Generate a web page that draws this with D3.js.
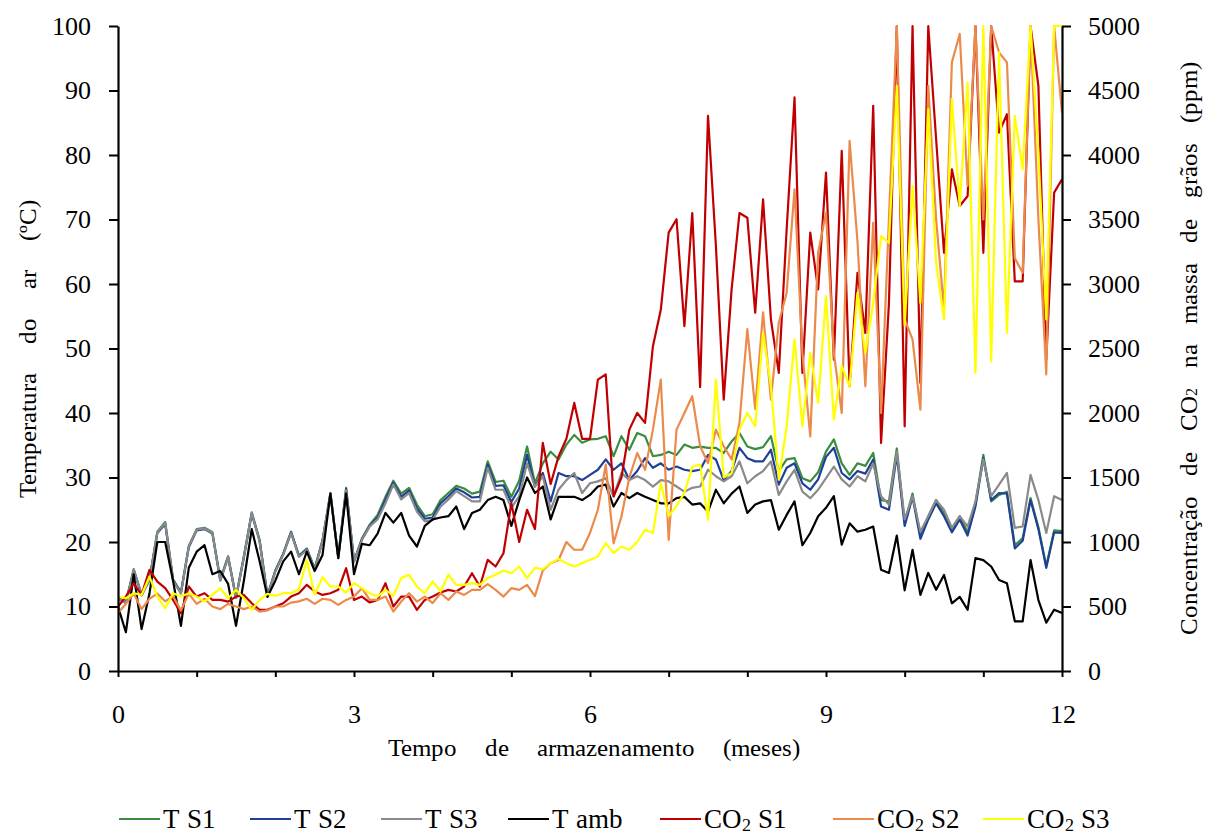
<!DOCTYPE html>
<html>
<head>
<meta charset="utf-8">
<script src="https://cdn.jsdelivr.net/npm/d3@7"></script>
<style>
  @font-face {
    font-family: "ChartSerif";
    src: local("Liberation Serif"), local("LiberationSerif"), local("LiberationSerif-Regular"),
         local("Times New Roman"), local("TimesNewRomanPSMT"), local("DejaVu Serif"), local("DejaVuSerif");
  }
  body { margin: 0; background: #fff; }
  svg { display: block; }
  svg text { font-family: "ChartSerif", "Liberation Serif", "Times New Roman", Times, "DejaVu Serif", serif; fill: #000; }
</style>
</head>
<body>
<svg id="chart" width="1213" height="834"></svg>
<script>
// Storage time grid (months), one reading every 0.1 month
const months = d3.range(0, 121).map(i => i / 10);

// Air temperature inside each silo and ambient (°C)
const tempS1 = [
  11.2, 10.6, 15.8, 11.7, 14.2, 21.6, 23.1, 14.2, 12.2, 19.4,
  22, 22.2, 21.5, 14.2, 17.8, 11.4, 17.8, 24.6, 20.3, 11.7,
  15.6, 18.2, 21.6, 17.9, 19, 15.9, 20.3, 27.6, 17.7, 28.4,
  17, 20.5, 22.7, 24.2, 27, 29.5, 27.5, 28.4, 25.8, 24,
  24.3, 26.5, 27.6, 28.7, 28.3, 27.5, 27.8, 32.5, 29.3, 29.5,
  27, 29.5, 34.8, 29.1, 32.2, 34, 32.8, 35.1, 36.6, 35.4,
  35.9, 36, 36.4, 33.3, 36.4, 34.3, 36.9, 36.4, 33.3, 33.5,
  34, 33.5, 35.1, 34.6, 34.8, 34.6, 34.6, 33.8, 35.6, 36.9,
  34.8, 34.4, 34.7, 36.4, 31, 32.8, 33, 29.9, 29.4, 30.8,
  34, 35.9, 32.2, 30.4, 32.2, 31.8, 33.8, 26.5, 26.3, 34.5,
  23, 27.5, 21, 24, 26.5, 24.5, 22, 24, 21.5, 26,
  33.5, 26.3, 27.3, 27.8, 19.5, 20.6, 26.8, 22.3, 16.3, 21.8,
  21.7
];
const tempS2 = [
  11.4, 10.6, 15.6, 11.9, 14.1, 21.4, 22.8, 14.1, 12.1, 19.2,
  21.8, 22, 21.3, 14.1, 17.6, 11.4, 17.6, 24.4, 20.2, 11.6,
  15.5, 18.1, 21.5, 17.8, 18.9, 15.8, 20.2, 27.4, 17.6, 28.2,
  17, 20.4, 22.5, 23.8, 26.5, 29.2, 27, 28, 25.2, 23.6,
  23.8, 26, 27.1, 28.3, 27.7, 26.9, 27, 32, 28.7, 28.8,
  26.2, 28.3, 33.5, 28.6, 30.7, 26.3, 30.7, 30.2, 30.2, 29.6,
  30.4, 31.2, 32.8, 31.2, 32.2, 29.6, 31, 33, 31.5, 32.2,
  31.2, 31.7, 31.2, 31, 31.2, 33.5, 32.8, 29.6, 31, 34.6,
  33, 32.5, 32.5, 34.3, 28.9, 31.5, 32.2, 29.1, 28.1, 29.7,
  33.2, 34.6, 30.7, 29.7, 31, 30.6, 32.8, 25.5, 25, 33.5,
  22.5, 27, 20.5, 23.5, 26, 24, 21.5, 23.5, 21, 25.5,
  33, 26.5, 27.6, 27.5, 19, 20.2, 26.5, 22, 16, 21.5,
  21.4
];
const tempS3 = [
  11.3, 10.5, 15.7, 11.8, 14, 21.5, 23, 14, 12, 19.3,
  21.9, 22.1, 21.4, 14, 17.7, 11.3, 17.7, 24.5, 20.1, 11.5,
  15.4, 18, 21.4, 17.7, 18.8, 15.7, 20.1, 27.5, 17.5, 28,
  17, 20.3, 22.4, 23.5, 26, 28.9, 26.6, 27.6, 24.7, 23.2,
  23.4, 25.5, 26.6, 27.9, 27.1, 26.3, 26.3, 31.5, 28.1, 28.1,
  25.3, 27.1, 32.2, 28.6, 30.2, 25, 28.1, 29.6, 30.7, 27.6,
  29.1, 29.4, 29.9, 27.1, 30.7, 29.6, 30.2, 29.6, 28.6, 29.6,
  29.4, 28.6, 27.8, 28.4, 28.6, 31.2, 30.2, 29.4, 30.2, 32.5,
  29.1, 30.2, 31, 32.5, 27.3, 29.4, 31.2, 27.8, 26.8, 28.1,
  29.9, 31.7, 29.7, 28.6, 30.2, 29.4, 32.2, 27.1, 25.8, 34,
  23.5, 27.1, 21.6, 24, 26.5, 25, 22.2, 24, 22.4, 26.3,
  32.8, 27.1, 28.9, 30.7, 22.2, 22.4, 30.4, 26.5, 21.4, 27.1,
  26.5
];
const tempAmb = [
  10, 6, 15, 6.5, 12, 20, 20, 14, 7, 16,
  18.5, 19.5, 15, 15.5, 13.5, 7, 14, 22, 17, 11.5,
  14, 17, 18.5, 15, 18.5, 15.5, 18, 27.5, 17.5, 27.5,
  15, 19.7, 19.5, 21.3, 24.5, 23, 24.5, 21, 19.3, 22.5,
  23.5, 23.8, 24, 25.5, 22, 24.5, 25, 26.5, 27, 26.5,
  22.5, 26.5, 30, 27.6, 28.6, 23.5, 27, 27, 27, 26.5,
  27.3, 28.6, 28.9, 25.5, 27.6, 26.8, 27.6, 27, 26.5, 26,
  26, 26.8, 27, 25.8, 26, 24.7, 28.1, 26, 27.5, 28.6,
  24.5, 25.8, 26.3, 26.5, 21.9, 24.2, 26.3, 19.5, 21.4, 24,
  25.3, 27.1, 19.6, 22.9, 21.6, 21.9, 22.4, 15.7, 15.2, 21,
  12.5, 18.8, 11.8, 15.2, 12.6, 14.9, 10.5, 11.5, 9.5, 17.5,
  17.2, 16.2, 14.1, 13.6, 7.7, 7.7, 17.2, 11, 7.5, 9.5,
  9
];

// CO2 concentration in the grain mass of each silo (ppm)
const co2S1 = [
  500, 577, 680, 590, 784, 693, 642, 551, 448, 655,
  577, 603, 551, 551, 538, 577, 590, 525, 474, 474,
  500, 525, 577, 603, 668, 616, 590, 603, 629, 797,
  551, 577, 531, 551, 681, 500, 577, 577, 474, 551,
  577, 608, 629, 616, 655, 758, 655, 862, 810, 913,
  1300, 1000, 1250, 1100, 1768, 1450, 1664, 1800, 2078, 1800,
  1800, 2259, 2300, 1353, 1500, 1871, 2000, 1923, 2518, 2800,
  3398, 3502, 2673, 3550, 2200, 4304, 3300, 2104, 2958, 3550,
  3514, 2777, 3657, 2725, 2311, 3424, 4446, 2311, 3398, 2958,
  3864, 2414, 4032, 2207, 3087, 2620, 4381, 1767, 2850, 5000,
  1897, 5000, 2233, 5000, 4122, 3242, 3889, 3605, 3682, 5000,
  3242, 5000, 4174, 4316, 3020, 3020, 5000, 4536, 2414, 3708,
  3812
];
const co2S2 = [
  450, 520, 600, 480, 560, 600, 540, 580, 470, 600,
  520, 560, 500, 480, 520, 500, 480, 500, 460, 470,
  500, 500, 530, 540, 560, 520, 560, 551, 513, 551,
  577, 642, 551, 551, 577, 461, 538, 603, 538, 577,
  526, 603, 551, 616, 590, 629, 629, 673, 629, 577,
  642, 629, 668, 580, 780, 836, 860, 1000, 940, 940,
  1070, 1250, 1600, 990, 1200, 1500, 1690, 1560, 1871, 2259,
  1017, 1871, 2000, 2130, 1742, 1612, 1871, 1742, 1640, 1923,
  2650, 2030, 2780, 2104, 2700, 2932, 3734, 2466, 1819, 3242,
  3553, 2466, 2000, 4110, 3333, 2207, 3475, 2000, 3501, 5000,
  2725, 2570, 2026, 4536, 3501, 2802, 4718, 4938, 3760, 5000,
  3500, 5000, 4795, 4718, 3200, 3087, 5000, 3501, 2299, 5000,
  4329
];
const co2S3 = [
  577, 564, 603, 590, 732, 577, 486, 603, 577, 603,
  577, 538, 590, 642, 564, 629, 564, 474, 551, 598,
  582, 603, 603, 634, 862, 590, 727, 655, 655, 608,
  681, 642, 603, 577, 629, 583, 720, 746, 655, 603,
  694, 616, 746, 668, 668, 681, 668, 720, 746, 779,
  758, 810, 720, 800, 790, 836, 870, 836, 810, 836,
  862, 888, 991, 914, 965, 940, 1000, 1095, 1070, 1457,
  1200, 1280, 1380, 1585, 1600, 1172, 2259, 1500, 1535, 1871,
  2000, 1897, 2621, 2207, 1483, 1897, 2570, 1897, 2466, 2078,
  2906, 1949, 2363, 2207, 2932, 2466, 2855, 3372, 3320, 4536,
  2680, 3760, 2854, 4355, 3165, 2725, 4433, 3605, 4562, 2311,
  5000, 2400, 4795, 2621, 4304, 3889, 5000, 4019, 2725, 5000,
  5000
];

// Axis ticks and labels
const tempTicks = [0, 10, 20, 30, 40, 50, 60, 70, 80, 90, 100];
const co2Ticks = [0, 500, 1000, 1500, 2000, 2500, 3000, 3500, 4000, 4500, 5000];
const monthTicks = [0, 1, 2, 3, 4, 5, 6, 7, 8, 9, 10, 11, 12];
const monthLabels = [0, 3, 6, 9, 12];

const series = [
  { name: "T S1", values: tempS1, axis: "temp", color: "#3a8c3e" },
  { name: "T S2", values: tempS2, axis: "temp", color: "#1f3f98" },
  { name: "T S3", values: tempS3, axis: "temp", color: "#8a8a8a" },
  { name: "T amb", values: tempAmb, axis: "temp", color: "#000000" },
  { name: "CO2 S1", values: co2S1, axis: "co2", color: "#c00000" },
  { name: "CO2 S2", values: co2S2, axis: "co2", color: "#ec8a4b" },
  { name: "CO2 S3", values: co2S3, axis: "co2", color: "#ffff00" }
];

const FONT = '"ChartSerif", "Liberation Serif", "Times New Roman", Times, "DejaVu Serif", serif';
const svg = d3.select("#chart");
const plot = { left: 118, right: 1062, top: 26, bottom: 671 };

const x = d3.scaleLinear().domain([0, 12]).range([plot.left, plot.right]);
const yT = d3.scaleLinear().domain([0, 100]).range([plot.bottom, plot.top]);
const yC = d3.scaleLinear().domain([0, 5000]).range([plot.bottom, plot.top]);

svg.append("defs").append("clipPath").attr("id", "plotClip")
  .append("rect")
  .attr("x", plot.left).attr("y", plot.top - 1.5)
  .attr("width", plot.right - plot.left).attr("height", plot.bottom - plot.top + 1.5);

// Data lines
const linesG = svg.append("g").attr("clip-path", "url(#plotClip)");
series.forEach(s => {
  const yScale = s.axis === "temp" ? yT : yC;
  const line = d3.line()
    .x((d, i) => x(months[i]))
    .y(d => yScale(d));
  linesG.append("path")
    .datum(s.values)
    .attr("fill", "none")
    .attr("stroke", s.color)
    .attr("stroke-width", 2.2)
    .attr("stroke-linejoin", "round")
    .attr("d", line);
});

// Axes
const tickFont = 26;
function styleAxis(g) {
  g.attr("font-family", FONT).attr("font-size", tickFont);
  g.selectAll("path.domain").attr("stroke", "#000").attr("stroke-width", 2.2);
  g.selectAll(".tick line").attr("stroke", "#000").attr("stroke-width", 2);
  g.selectAll(".tick text")
    .attr("font-size", tickFont)
    .attr("font-family", FONT)
    .attr("fill", "#000");
}

svg.append("g")
  .attr("transform", `translate(${plot.left},0)`)
  .call(d3.axisLeft(yT).tickValues(tempTicks).tickSize(9).tickSizeOuter(0).tickPadding(18)
    .tickFormat(d3.format("d")))
  .call(styleAxis);

svg.append("g")
  .attr("transform", `translate(${plot.right},0)`)
  .call(d3.axisRight(yC).tickValues(co2Ticks).tickSize(9).tickSizeOuter(0).tickPadding(17)
    .tickFormat(d3.format("d")))
  .call(styleAxis);

svg.append("g")
  .attr("transform", `translate(0,${plot.bottom})`)
  .call(d3.axisBottom(x).tickValues(monthTicks).tickSize(6).tickSizeOuter(0).tickPadding(28)
    .tickFormat(d => monthLabels.includes(d) ? d : ""))
  .call(styleAxis);

// Spread the words of a title so that it spans the given length
function spreadWords(sel, span) {
  const node = sel.node();
  const base = node.getComputedTextLength();
  const gaps = (node.textContent.match(/ /g) || []).length;
  if (gaps > 0 && span > base) sel.attr("word-spacing", (span - base) / gaps);
}

// Axis titles
const titleFont = 25;
const leftTitle = svg.append("text")
  .attr("transform", `translate(27,${(plot.top + plot.bottom) / 2}) rotate(-90)`)
  .attr("text-anchor", "middle")
  .attr("dominant-baseline", "central")
  .attr("font-family", FONT)
  .attr("font-size", titleFont)
  .text("Temperatura do ar (ºC)");
spreadWords(leftTitle, 298);

const rightTitle = svg.append("text")
  .attr("transform", `translate(1188,${(plot.top + plot.bottom) / 2}) rotate(-90)`)
  .attr("text-anchor", "middle")
  .attr("dominant-baseline", "central")
  .attr("font-family", FONT)
  .attr("font-size", titleFont);
rightTitle.append("tspan").text("Concentração de CO");
rightTitle.append("tspan").attr("font-size", titleFont * 0.65).attr("dy", 4).text("2");
rightTitle.append("tspan").attr("dy", -4).text(" na massa de grãos (ppm)");
spreadWords(rightTitle, 573);

const bottomTitle = svg.append("text")
  .attr("x", 594)
  .attr("y", 756)
  .attr("text-anchor", "middle")
  .attr("font-family", FONT)
  .attr("font-size", titleFont)
  .text("Tempo de armazenamento (meses)");
spreadWords(bottomTitle, 412);

// Legend: a short line sample followed by the series name
const legendFont = 27;
const legendStarts = [119, 250, 381, 508, 660, 833, 983];
const legendY = 819;
const legendG = svg.append("g");
series.forEach((s, i) => {
  const x0 = legendStarts[i];
  legendG.append("line")
    .attr("x1", x0).attr("x2", x0 + 41)
    .attr("y1", legendY).attr("y2", legendY)
    .attr("stroke", s.color).attr("stroke-width", 2.2);
  const t = legendG.append("text")
    .attr("x", x0 + 44).attr("y", 828)
    .attr("font-family", FONT)
    .attr("font-size", legendFont);
  if (s.name.startsWith("CO2")) {
    t.append("tspan").text("CO");
    t.append("tspan").attr("font-size", legendFont * 0.65).attr("dy", 3).text("2");
    t.append("tspan").attr("dy", -3).text(" " + s.name.slice(4));
  } else {
    t.text(s.name);
  }
});
</script>
</body>
</html>
